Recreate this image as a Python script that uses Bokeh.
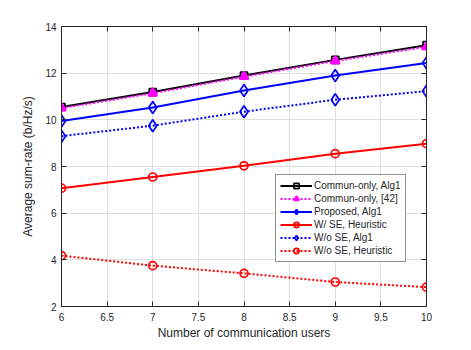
from bokeh.plotting import figure
from bokeh.models import (LinearAxis, Range1d, FixedTicker, Legend, LegendItem,
                          CustomJSTickFormatter)
from bokeh.embed import file_html
from bokeh.resources import INLINE

users = [6, 7, 8, 9, 10]
commun_alg1 = [10.55, 11.19, 11.90, 12.57, 13.20]
commun_42 = [10.50, 11.14, 11.85, 12.52, 13.13]
proposed_alg1 = [9.95, 10.53, 11.26, 11.90, 12.44]
wse_heur = [7.07, 7.55, 8.03, 8.55, 8.98]
wose_alg1 = [9.30, 9.75, 10.35, 10.86, 11.23]
wose_heur = [4.18, 3.75, 3.42, 3.05, 2.83]

x_ticks = [6, 6.5, 7, 7.5, 8, 8.5, 9, 9.5, 10]
y_ticks = [2, 4, 6, 8, 10, 12, 14]

FONT = "Liberation Sans"
AX = "#262626"

p = figure(width=455, height=342, output_backend="svg", toolbar_location=None,
           x_range=Range1d(6, 10), y_range=Range1d(2, 14),
           min_border_left=61, min_border_right=29, min_border_top=26,
           min_border_bottom=31)
p.outline_line_color = AX
p.outline_line_width = 1

for ax in (p.xaxis[0], p.yaxis[0]):
    ax.major_tick_in = 5
    ax.major_tick_out = 0
    ax.minor_tick_line_color = None
    ax.axis_line_color = AX
    ax.major_tick_line_color = AX
    ax.major_label_text_font = FONT
    ax.major_label_text_font_size = "10px"
    ax.major_label_text_color = AX
    ax.axis_label_text_font = FONT
    ax.axis_label_text_font_size = "12px"
    ax.axis_label_text_font_style = "normal"
    ax.axis_label_text_color = AX

p.xaxis.ticker = FixedTicker(ticks=x_ticks)
p.yaxis.ticker = FixedTicker(ticks=y_ticks)
p.xaxis.axis_label = "Number of communication users"
p.yaxis.axis_label = "Average sum-rate (b/Hz/s)"
p.xaxis.major_label_standoff = 6
p.yaxis.major_label_standoff = 5
p.xaxis.axis_label_standoff = 2
p.yaxis.axis_label_standoff = 7

empty = CustomJSTickFormatter(code="return ''")
top = LinearAxis(ticker=FixedTicker(ticks=x_ticks), formatter=empty,
                 major_tick_in=5, major_tick_out=0, minor_tick_line_color=None,
                 axis_line_color=AX, major_tick_line_color=AX,
                 major_label_text_font_size="1px")
right = LinearAxis(ticker=FixedTicker(ticks=y_ticks), formatter=empty,
                   major_tick_in=5, major_tick_out=0, minor_tick_line_color=None,
                   axis_line_color=AX, major_tick_line_color=AX,
                   major_label_text_font_size="1px")
p.add_layout(top, "above")
p.add_layout(right, "right")

p.xgrid.ticker = FixedTicker(ticks=x_ticks)
p.ygrid.ticker = FixedTicker(ticks=y_ticks)
p.grid.grid_line_color = "#dedede"
p.grid.grid_line_width = 1

items = []

def series(y, color, dash, marker, label, fill=None, size=8):
    l = p.line(users, y, line_color=color, line_width=2, line_dash=dash)
    if fill is None:
        m = p.scatter(users, y, marker=marker, size=size, line_color=color,
                      line_width=1.7, fill_alpha=0)
    else:
        m = p.scatter(users, y, marker=marker, size=size, line_color=color,
                      line_width=1.7, fill_color=fill)
    items.append(LegendItem(label=label, renderers=[l, m]))

series(commun_alg1, "black", "solid", "square", "Commun-only, Alg1", size=7)
series(commun_42, "#ff00ff", "2 2", "triangle", "Commun-only, [42]", fill="#ff00ff", size=9)
series(proposed_alg1, "blue", "solid", "diamond", "Proposed, Alg1", size=12)
series(wse_heur, "red", "solid", "circle", "W/ SE, Heuristic", size=8)
series(wose_alg1, "blue", "2 2", "diamond", "W/o SE, Alg1", size=12)
series(wose_heur, "red", "2 2", "circle", "W/o SE, Heuristic", size=8)

legend = Legend(items=items, location=(214, 44))
legend.label_text_font = FONT
legend.label_text_font_size = "10px"
legend.label_text_color = AX
legend.label_height = 13
legend.glyph_height = 13
legend.glyph_width = 32
legend.spacing = 0
legend.padding = 4
legend.margin = 0
legend.label_standoff = 2
legend.border_line_color = AX
legend.border_line_width = 1
legend.background_fill_color = "white"
legend.background_fill_alpha = 1
p.add_layout(legend, "center")

open("out.html", "w").write(file_html(p, INLINE))
